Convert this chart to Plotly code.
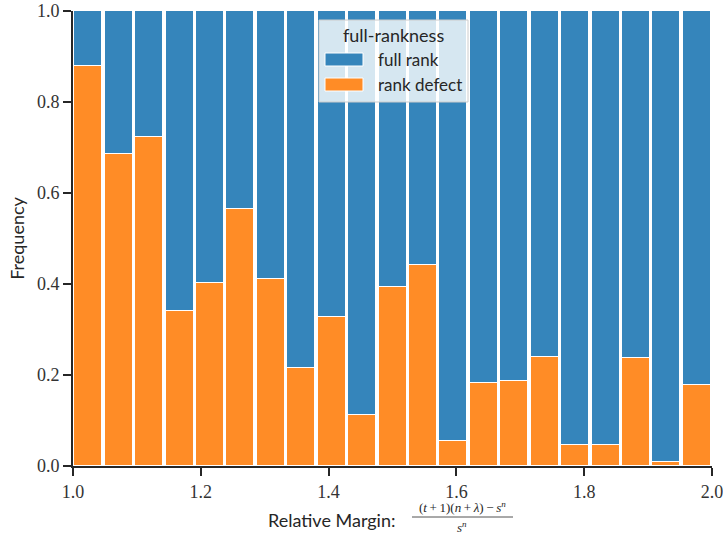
import numpy as np
import plotly.graph_objects as go

# ---- data ----
x_min, x_max, n_bins = 1.0, 2.0, 21
rank_defect = [0.879, 0.685, 0.724, 0.340, 0.403, 0.565, 0.411, 0.215, 0.327, 0.112,
               0.394, 0.441, 0.055, 0.182, 0.186, 0.239, 0.046, 0.046, 0.237, 0.009, 0.178]
full_rank = [1.0 - v for v in rank_defect]
series_names = ["full rank", "rank defect"]
legend_title = "full-rankness"
y_ticks = [0.0, 0.2, 0.4, 0.6, 0.8, 1.0]
x_ticks = [1.0, 1.2, 1.4, 1.6, 1.8, 2.0]

edges = np.linspace(x_min, x_max, n_bins + 1)
centers = (edges[:-1] + edges[1:]) / 2
width = edges[1] - edges[0]

BLUE = "#3585bb"
ORANGE = "#ff8c26"
AX = "#262626"
SANS = "Lato"
SERIF = "Liberation Serif"

fig = go.Figure()
fig.add_trace(go.Bar(x=centers, y=rank_defect, width=width * 0.92, name=series_names[1],
                     marker=dict(color=ORANGE, line=dict(color="white", width=1.5)),
                     showlegend=False))
fig.add_trace(go.Bar(x=centers, y=full_rank, width=width * 0.92, name=series_names[0],
                     marker=dict(color=BLUE, line=dict(color="white", width=1.5)),
                     showlegend=False))

L, R, T, B = 73, 11, 11, 70
W, H = 723, 536
pw, ph = W - L - R, H - T - B


def px(xp):
    return (xp - L) / pw


def py(yp):
    return (H - B - yp) / ph


shapes = []
annotations = []

# legend box
shapes.append(dict(type="rect", xref="paper", yref="paper", layer="above",
                   x0=px(319), x1=px(468), y0=py(20), y1=py(102),
                   fillcolor="rgba(255,255,255,0.8)", line=dict(color="#cccccc", width=1)))
shapes.append(dict(type="rect", xref="paper", yref="paper", layer="above",
                   x0=px(325), x1=px(363), y0=py(53), y1=py(66),
                   fillcolor=BLUE, line=dict(color="white", width=1)))
shapes.append(dict(type="rect", xref="paper", yref="paper", layer="above",
                   x0=px(325), x1=px(363), y0=py(78), y1=py(91),
                   fillcolor=ORANGE, line=dict(color="white", width=1)))
annotations.append(dict(text=legend_title, xref="paper", yref="paper", x=px(393), y=py(35),
                        showarrow=False, xanchor="center", yanchor="middle",
                        font=dict(family=SANS, size=18, color=AX)))
annotations.append(dict(text=series_names[0], xref="paper", yref="paper", x=px(376), y=py(60),
                        showarrow=False, xanchor="left", yanchor="middle",
                        font=dict(family=SANS, size=17, color=AX)))
annotations.append(dict(text=series_names[1], xref="paper", yref="paper", x=px(376), y=py(85),
                        showarrow=False, xanchor="left", yanchor="middle",
                        font=dict(family=SANS, size=17, color=AX)))

# x axis label: "Relative Margin: ((t+1)(n+λ)-s^n) / s^n"
annotations.append(dict(text="Relative Margin:", xref="paper", yref="paper", x=px(397), y=py(520),
                        showarrow=False, xanchor="right", yanchor="middle",
                        font=dict(family=SANS, size=18, color=AX)))
ts = "\u2009"
numer = f"(<i>t</i>{ts}+{ts}1)(<i>n</i>{ts}+{ts}<i>λ</i>){ts}−{ts}<i>s</i><sup><i>n</i></sup>"
annotations.append(dict(text=numer, xref="paper", yref="paper", x=px(462), y=py(516),
                        showarrow=False, xanchor="center", yanchor="bottom", borderpad=0,
                        font=dict(family=SERIF, size=13, color=AX)))
annotations.append(dict(text="<i>s</i><sup><i>n</i></sup>", xref="paper", yref="paper",
                        x=px(462), y=py(518), showarrow=False, xanchor="center", yanchor="top",
                        borderpad=0, font=dict(family=SERIF, size=13, color=AX)))
shapes.append(dict(type="line", xref="paper", yref="paper", x0=px(412), x1=px(513),
                   y0=py(517), y1=py(517), line=dict(color=AX, width=0.8)))

fig.update_layout(
    width=W, height=H,
    margin=dict(l=L, r=R, t=T, b=B, pad=0, autoexpand=False),
    barmode="stack",
    bargap=0,
    plot_bgcolor="white", paper_bgcolor="white",
    shapes=shapes, annotations=annotations,
    xaxis=dict(range=[x_min, x_max], tickvals=x_ticks, tickformat=".1f",
               ticklabeloverflow="allow", automargin=False,
               showgrid=False, zeroline=False, showline=True, linecolor=AX, linewidth=1.8,
               ticks="outside", ticklen=8, tickwidth=1.8, tickcolor=AX,
               tickfont=dict(family=SERIF, size=18, color="#333333")),
    yaxis=dict(range=[0, 1], tickvals=y_ticks, tickformat=".1f",
               ticklabeloverflow="allow", automargin=False,
               showgrid=False, zeroline=False, showline=True, linecolor=AX, linewidth=1.8,
               ticks="outside", ticklen=8, tickwidth=1.8, tickcolor=AX,
               tickfont=dict(family=SERIF, size=18, color="#333333"),
               title=dict(text="Frequency", font=dict(family=SANS, size=18, color=AX), standoff=8)),
)

fig.write_html("out.html")
